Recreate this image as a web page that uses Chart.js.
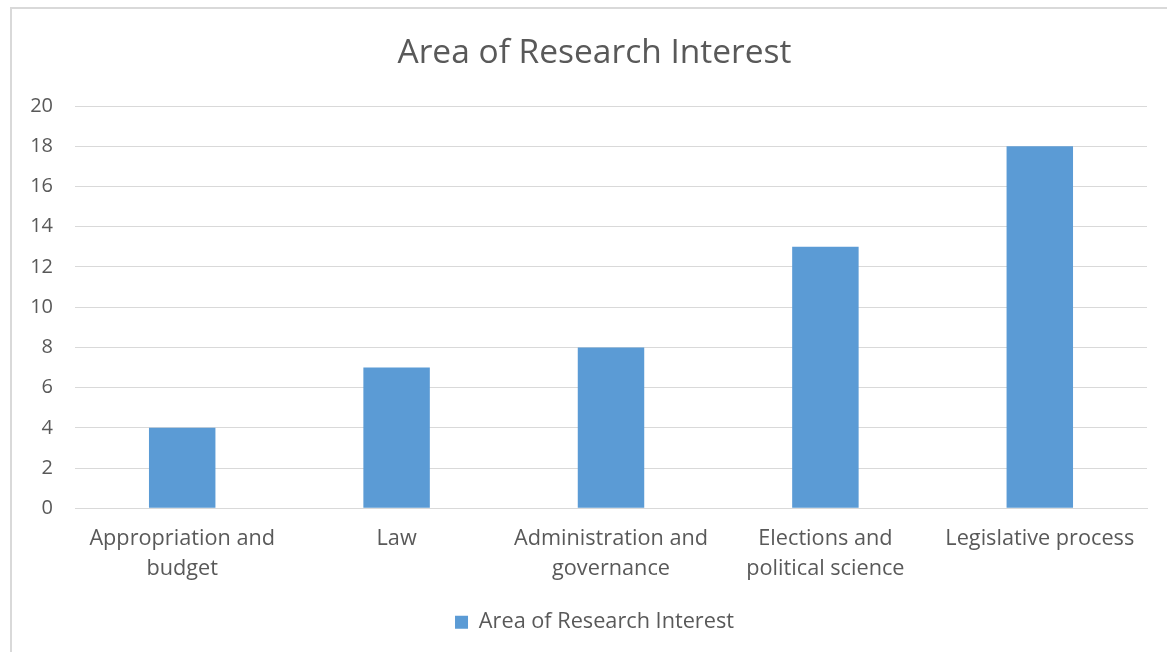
<!DOCTYPE html>
<html>
<head>
<meta charset="utf-8">
<script src="https://cdn.jsdelivr.net/npm/chart.js@4"></script>
<style>
  html, body { margin: 0; padding: 0; background: #ffffff; width: 1167px; height: 652px; overflow: hidden; }
  #frame { position: absolute; left: 10px; top: 7px; width: 1170px; height: 660px; border-left: 2px solid #d9d9d9; border-top: 2px solid #d9d9d9; box-sizing: border-box; }
  #wrap { position: absolute; left: 0; top: 0; width: 1167px; height: 652px; }
</style>
</head>
<body>
<div id="frame"></div>
<div id="wrap"><canvas id="c" width="1167" height="652"></canvas></div>
<script>
const categories = [
  ["Appropriation and", "budget"],
  ["Law"],
  ["Administration and", "governance"],
  ["Elections and", "political science"],
  ["Legislative process"]
];
const seriesName = "Area of Research Interest";
const values = [4, 7, 8, 13, 18];
const yTicks = [0, 2, 4, 6, 8, 10, 12, 14, 16, 18, 20];

const FONT = "'Open Sans', sans-serif";
const TEXT = "#595959";
const GRID = "#d9d9d9";
const BAR = "#5b9bd5";

new Chart(document.getElementById("c"), {
  type: "bar",
  data: {
    labels: categories,
    datasets: [{
      label: seriesName,
      data: values,
      backgroundColor: BAR,
      borderWidth: 0,
      categoryPercentage: 1.0,
      barPercentage: 0.31
    }]
  },
  options: {
    responsive: false,
    animation: false,
    devicePixelRatio: 1,
    layout: { padding: { left: 42, right: 20, top: 0, bottom: 9 } },
    plugins: {
      title: {
        display: true,
        text: seriesName,
        color: TEXT,
        font: { family: FONT, size: 33.5, weight: "normal", lineHeight: 1.2 },
        padding: { top: 33, bottom: 32.8 }
      },
      legend: {
        display: true,
        position: "bottom",
        labels: {
          color: TEXT,
          font: { family: FONT, size: 21.7 },
          boxWidth: 13,
          boxHeight: 13,
          padding: 8
        }
      },
      tooltip: { enabled: false }
    },
    scales: {
      x: {
        grid: { display: false, drawTicks: false },
        border: { display: true, color: GRID, width: 1 },
        ticks: {
          color: TEXT,
          font: { family: FONT, size: 21.7, lineHeight: 1.38 },
          padding: 16,
          maxRotation: 0,
          autoSkip: false
        },
        afterFit: (s) => { s.height = 95; }
      },
      y: {
        min: 0,
        max: 20,
        afterBuildTicks: (s) => { s.ticks = yTicks.map(v => ({ value: v })); },
        grid: { color: GRID, lineWidth: 1, drawTicks: false },
        border: { display: false },
        ticks: {
          color: TEXT,
          font: { family: FONT, size: 20 },
          padding: 22
        },
        afterFit: (s) => {
          s.width = 33;
          s._computeLabelArea = function () { return undefined; };
        }
      }
    }
  }
});
</script>
</body>
</html>
